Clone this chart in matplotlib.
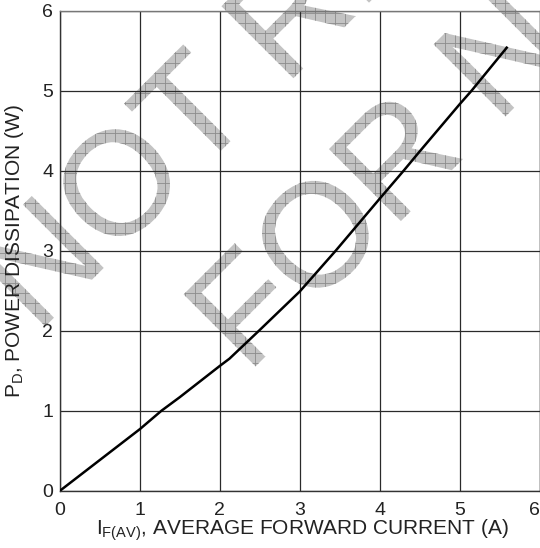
import numpy as np
import matplotlib
matplotlib.use("Agg")
import matplotlib.pyplot as plt
from matplotlib.textpath import TextPath
from matplotlib.patches import PathPatch
from matplotlib.transforms import Affine2D, IdentityTransform, ScaledTranslation
from matplotlib.collections import LineCollection
from matplotlib.font_manager import FontProperties

# ---- data ----
current_a = [0.0, 1.0, 1.27, 1.5, 2.0, 2.12, 2.49, 3.0, 3.45, 4.0, 4.3, 4.5, 5.0, 5.15, 5.6]
power_w = [0.0, 0.77, 1.0, 1.17, 1.56, 1.65, 2.0, 2.49, 3.0, 3.65, 4.0, 4.24, 4.83, 5.0, 5.55]
x_ticks = [0, 1, 2, 3, 4, 5, 6]
y_ticks = [0, 1, 2, 3, 4, 5, 6]
watermark_lines = ["NOT RECOMMENDED", "FOR NEW DESIGN"]

plt.rcParams['font.family'] = ['Liberation Sans', 'DejaVu Sans']
plt.rcParams['mathtext.fontset'] = 'custom'
plt.rcParams['mathtext.rm'] = 'Liberation Sans'
plt.rcParams['mathtext.it'] = 'Liberation Sans'

W, H = 540, 548
fig = plt.figure(figsize=(W / 100, H / 100), dpi=100)
fig.patch.set_facecolor('white')

# ---- watermark (bottom layer) ----
fp = FontProperties(family='Liberation Sans')
S = 148
ang = np.deg2rad(45)
u = np.array([np.cos(ang), np.sin(ang)])
nrm = np.array([-np.sin(ang), np.cos(ang)])
tps = [TextPath((0, 0), t, size=S, prop=fp) for t in watermark_lines]
widths = [tp.get_extents().x1 for tp in tps]
origin2 = np.array([247.0, 173.0])
origin1 = origin2 + 177 * nrm - (widths[0] - widths[1]) / 2 * u
gx = np.arange(-5, W + 10, 10)
gy = np.arange(-5, H + 10, 10)
segs = [[(x, -10), (x, H + 10)] for x in gx] + [[(-10, y), (W + 10, y)] for y in gy]
for tp, org in zip(tps, [origin1, origin2]):
    tr = Affine2D().rotate_deg(45).translate(*org)
    path = tr.transform_path(tp)
    patch = PathPatch(path, transform=IdentityTransform(), facecolor='#c3c3c3',
                      edgecolor='none', zorder=-3)
    fig.add_artist(patch)
    lc = LineCollection(segs, colors='#8c8c8c', linewidths=0.6,
                        transform=IdentityTransform(), zorder=-2)
    fig.add_artist(lc)
    lc.set_clip_path(patch)

# ---- axes ----
ax = fig.add_axes([60 / W, 57.3 / H, 479.5 / W, 480 / H])
ax.set_facecolor('none')
ax.plot(current_a, power_w, color='black', lw=1.8, solid_capstyle='butt', zorder=3)
ax.set_xlim(0, 6)
ax.set_ylim(0, 6)
ax.set_xticks(x_ticks)
ax.set_yticks(y_ticks)
ax.set_xticklabels([str(v) for v in x_ticks])
ax.set_yticklabels([str(v) for v in y_ticks])
ax.grid(True, color='#2a2a2a', lw=0.9)
ax.set_axisbelow(True)
for s in ax.spines.values():
    s.set_color('#333333')
    s.set_linewidth(1.0)
ax.spines['top'].set_color('#777777')
ax.tick_params(length=0, labelsize=14, colors='#222222')
ax.tick_params(axis='x', pad=8)
ax.tick_params(axis='y', pad=5)

# keep the last x tick label inside the figure
last = ax.get_xticklabels()[-1]
last.set_transform(last.get_transform() + ScaledTranslation(-5 / 100, 0, fig.dpi_scale_trans))

ax.set_xlabel(r'$\mathrm{I}_{\mathrm{F(AV)}}$, AVERAGE FORWARD CURRENT (A)', fontsize=15, color='#222222')
ax.set_ylabel(r'$\mathrm{P}_{\mathrm{D}}$, POWER DISSIPATION (W)', fontsize=15, color='#222222')
ax.xaxis.set_label_coords(0.506, -0.056)
ax.yaxis.set_label_coords(-0.071, 0.5)

fig.savefig('out.png', dpi=100)
